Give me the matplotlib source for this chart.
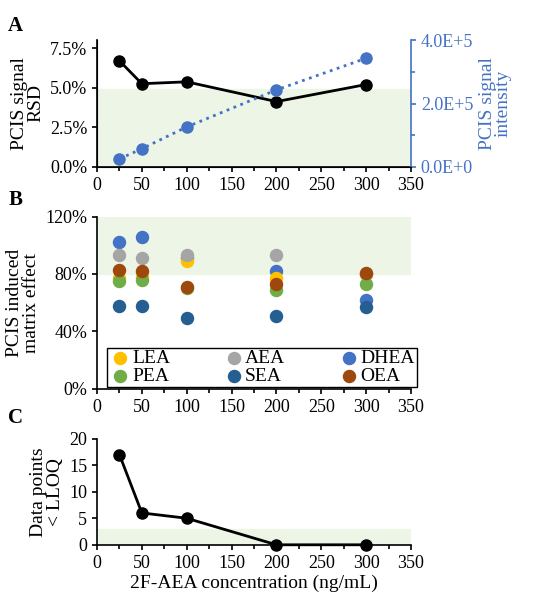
import matplotlib
matplotlib.use("Agg")
import matplotlib.pyplot as plt
from matplotlib.ticker import FuncFormatter, MultipleLocator

plt.rcParams['font.family'] = ['Liberation Serif', 'DejaVu Serif']
plt.rcParams['font.size'] = 13

conc = [25, 50, 100, 200, 300]
rsd = [6.7, 5.25, 5.37, 4.12, 5.2]
intensity = [0.25e5, 0.57e5, 1.26e5, 2.43e5, 3.43e5]
names = ['LEA', 'PEA', 'AEA', 'SEA', 'DHEA', 'OEA']
colors = ['#FFC000', '#70AD47', '#A5A5A5', '#255E91', '#4472C4', '#9E480E']
lea = [77, 78, 89, 77, 80]
pea = [75, 76, 70, 69, 73]
aea = [93, 91, 93, 93, 80]
sea = [58, 58, 49, 51, 57]
dhea = [102, 106, 91, 82, 62]
oea = [83, 82, 71, 73, 81]
below = [17, 6, 5, 0, 0]
zorders = [4, 6, 5, 7, 3, 8]

fig = plt.figure(figsize=(5.51, 6.0), dpi=100)
band = '#EDF5E7'
blue = '#4472C4'
L, W = 0.176, 0.570

def xfmt(ax):
    ax.set_xlim(0, 350)
    ax.set_xticks(range(0, 351, 50))
    ax.xaxis.set_minor_locator(MultipleLocator(25))
    ax.tick_params(direction='out', labelsize=13, width=1.2)
    ax.tick_params(which='minor', direction='out', width=1.2, length=3)
    for s in ['top', 'right']:
        ax.spines[s].set_visible(False)
    for s in ['left', 'bottom']:
        ax.spines[s].set_linewidth(1.2)

axA = fig.add_axes([L, 0.722, W, 0.211])
axA.axhspan(0, 4.9, color=band, zorder=0)
axA.plot(conc, rsd, 'k-o', lw=2, ms=8, zorder=3)
axA.set_ylim(0, 8)
axA.set_yticks([0, 2.5, 5, 7.5])
axA.yaxis.set_major_formatter(FuncFormatter(lambda v, p: f'{v:.1f}%'))
axA.set_ylabel('PCIS signal\nRSD', fontsize=14, linespacing=0.95)
xfmt(axA)
axA2 = axA.twinx()
axA2.plot(conc, intensity, 'o:', color=blue, lw=2, ms=8)
axA2.set_ylim(0, 4e5)
axA2.set_yticks([0, 2e5, 4e5])
axA2.yaxis.set_minor_locator(MultipleLocator(1e5))
axA2.set_yticklabels(['0.0E+0', '2.0E+5', '4.0E+5'], color=blue)
axA2.set_ylabel('PCIS signal\nintensity', color=blue, fontsize=14, linespacing=0.95)
axA2.spines['right'].set_color(blue)
axA2.spines['right'].set_linewidth(1.2)
axA2.spines['top'].set_visible(False)
axA2.tick_params(which='both', colors=blue, labelsize=13, width=1.2)
axA2.tick_params(which='minor', length=3)
fig.text(0.015, 0.948, 'A', fontsize=15, fontweight='bold')

axB = fig.add_axes([L, 0.352, W, 0.287])
axB.axhspan(80, 120, color=band, zorder=0)
for n, c, v, z in zip(names, colors, [lea, pea, aea, sea, dhea, oea], zorders):
    axB.scatter(conc, v, color=c, s=75, label=n, zorder=z)
axB.set_ylim(0, 120)
axB.set_yticks([0, 40, 80, 120])
axB.yaxis.set_major_formatter(FuncFormatter(lambda v, p: f'{v:.0f}%'))
axB.set_ylabel('PCIS induced\nmatrix effect', fontsize=14, linespacing=0.95)
xfmt(axB)
leg = axB.legend(ncol=3, loc='lower left', bbox_to_anchor=(0.025, 0.0, 1.0, 0.22), mode='expand',
           fancybox=False, edgecolor='k', handletextpad=0.0, borderpad=0.1,
           labelspacing=0.0, fontsize=14, framealpha=1, borderaxespad=0.1,
           handlelength=1.2, columnspacing=0.5)
leg.set_zorder(10)
fig.text(0.015, 0.658, 'B', fontsize=15, fontweight='bold')

axC = fig.add_axes([L, 0.092, W, 0.177])
axC.axhspan(0, 3, color=band, zorder=0)
axC.plot(conc, below, 'k-o', lw=2, ms=8, zorder=3, clip_on=False)
axC.set_ylim(0, 20)
axC.set_yticks(range(0, 21, 5))
axC.set_ylabel('Data points\n< LLOQ', fontsize=14, linespacing=0.95)
axC.set_xlabel('2F-AEA concentration (ng/mL)', fontsize=14, labelpad=2)
xfmt(axC)
fig.text(0.015, 0.295, 'C', fontsize=15, fontweight='bold')

fig.savefig('out.png', dpi=100)
